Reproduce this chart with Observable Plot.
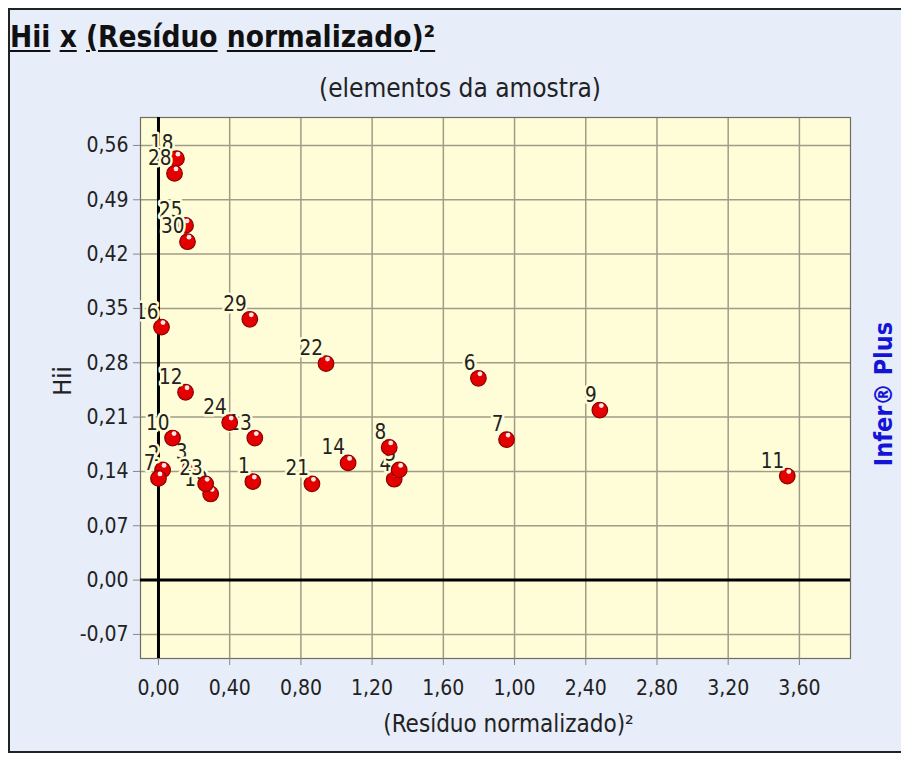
<!DOCTYPE html>
<html>
<head>
<meta charset="utf-8">
<script src="https://cdn.jsdelivr.net/npm/d3@7"></script>
<script src="https://cdn.jsdelivr.net/npm/@observablehq/plot@0.6"></script>
<style>
  html, body { margin: 0; padding: 0; background: #ffffff; width: 901px; height: 758px; overflow: hidden; }
  body { font-family: "DejaVu Sans Condensed", "DejaVu Sans", sans-serif; }
  #panel { position: absolute; left: 8px; top: 8px; width: 1000px; height: 745px; background: #e7edf9;
           border-left: 2px solid #222; border-top: 2px solid #222; border-bottom: 2px solid #222; box-sizing: border-box; }
  #title { position: absolute; left: 10px; top: 20px; font-size: 29.5px; font-weight: bold; color: #111; white-space: nowrap; }
  #title u { text-decoration: underline; text-decoration-thickness: 2px; text-underline-offset: 3px; }
  #subtitle { position: absolute; left: 0; width: 920px; text-align: center; top: 73px; font-size: 26px; color: #222; white-space: nowrap; }
  #chart { position: absolute; left: 0; top: 100px; }
</style>
</head>
<body>
<div id="panel"></div>
<div id="title"><u>Hii</u> <u>x</u> <u>(Resíduo</u> <u>normalizado)²</u></div>
<div id="subtitle">(elementos da amostra)</div>
<div id="chart"></div>
<script>
// ---- data (labels as shown) ----
const ids   = ["1", "2", "7", "3", "4", "5", "6", "7", "8", "9", "10", "11", "12", "13", "14", "16", "18", "19", "21", "22",
               "23", "24", "25", "28", "29", "30"];
const resid = [0.530, 0.023, 0.000, 0.180, 1.324, 1.352, 1.797, 1.955, 1.296, 2.479, 0.079, 3.532, 0.152, 0.541, 1.065,
               0.017, 0.101, 0.293, 0.862, 0.941, 0.265, 0.400, 0.152, 0.090, 0.513, 0.163];
const hii   = [0.127, 0.142, 0.131, 0.145, 0.130, 0.142, 0.260, 0.181, 0.171, 0.219, 0.183, 0.134, 0.242, 0.183, 0.151,
               0.326, 0.543, 0.111, 0.124, 0.279, 0.124, 0.203, 0.457, 0.524, 0.336, 0.436];

const xTicks = [0, 0.4, 0.8, 1.2, 1.6, 2.0, 2.4, 2.8, 3.2, 3.6];
const xTickLabels = ["0,00", "0,40", "0,80", "1,20", "1,60", "1,00", "2,40", "2,80", "3,20", "3,60"];
const yTicks = [-0.07, 0, 0.07, 0.14, 0.21, 0.28, 0.35, 0.42, 0.49, 0.56];
const yTickLabels = ["-0,07", "0,00", "0,07", "0,14", "0,21", "0,28", "0,35", "0,42", "0,49", "0,56"];

const xLabel = "(Resíduo normalizado)²";
const yLabel = "Hii";
const brand = "Infer® Plus";

// ---- chart ----
const bg = "#fefdd8";
const font = "\"DejaVu Sans Condensed\", \"DejaVu Sans\", sans-serif";
const rows = ids.map((id, i) => ({id, x: resid[i], y: hii[i]}));

const elementMarks = rows.flatMap(d => [
  Plot.dot([d], {x: "x", y: "y", r: 7.8, fill: "#e40000", stroke: "#8a0000", strokeWidth: 1.2}),
  Plot.dot([d], {x: "x", y: "y", r: 2.4, dx: 1.5, dy: -4.5, fill: "#ffffff", fillOpacity: 0.9}),
  Plot.text([d], {x: "x", y: "y", text: "id", dx: -3, dy: -15, textAnchor: "end",
                  fontSize: 20.5, fill: "#222", stroke: bg, strokeWidth: 5, paintOrder: "stroke",
                  strokeLinejoin: "round", clip: true})
]);

const chart = Plot.plot({
  width: 901,
  height: 650,
  marginLeft: 140,
  marginRight: 51,
  marginTop: 17,
  marginBottom: 92,
  style: {background: "transparent", overflow: "visible", fontFamily: font, color: "#222"},
  x: {domain: [-0.101, 3.887]},
  y: {domain: [-0.101, 0.596]},
  marks: [
    Plot.frame({fill: bg}),
    Plot.gridX({ticks: xTicks, stroke: "#a09c86", strokeOpacity: 1, strokeWidth: 1.5}),
    Plot.gridY({ticks: yTicks, stroke: "#a09c86", strokeOpacity: 1, strokeWidth: 1.5}),
    Plot.frame({stroke: "#6e6e66", strokeWidth: 1.2}),
    Plot.axisX({ticks: xTicks, tickFormat: d => xTickLabels[xTicks.indexOf(d)], tickSize: 7, tickPadding: 15,
                fontSize: 21, stroke: "#8a8a80", label: null}),
    Plot.axisY({ticks: yTicks, tickFormat: d => yTickLabels[yTicks.indexOf(d)], tickSize: 7, tickPadding: 5,
                fontSize: 21, stroke: "#8a8a80", label: null}),
    Plot.ruleX([0], {stroke: "#000", strokeWidth: 3}),
    Plot.ruleY([0], {stroke: "#000", strokeWidth: 3}),
    ...elementMarks,
    Plot.text([xLabel], {text: d => d, frameAnchor: "bottom", dx: 13, dy: 73, fontSize: 24, fill: "#222"}),
    Plot.text([yLabel], {text: d => d, frameAnchor: "left", textAnchor: "middle", lineAnchor: "middle",
                         dx: -78, dy: -7, rotate: -90, fontSize: 25, fill: "#222"}),
    Plot.text([brand], {text: d => d, frameAnchor: "right", textAnchor: "middle", lineAnchor: "middle",
                        dx: 33, dy: 6, rotate: -90, fontSize: 25, fontWeight: "bold", fill: "#1414d6"})
  ]
});
document.getElementById("chart").appendChild(chart);
</script>
</body>
</html>
